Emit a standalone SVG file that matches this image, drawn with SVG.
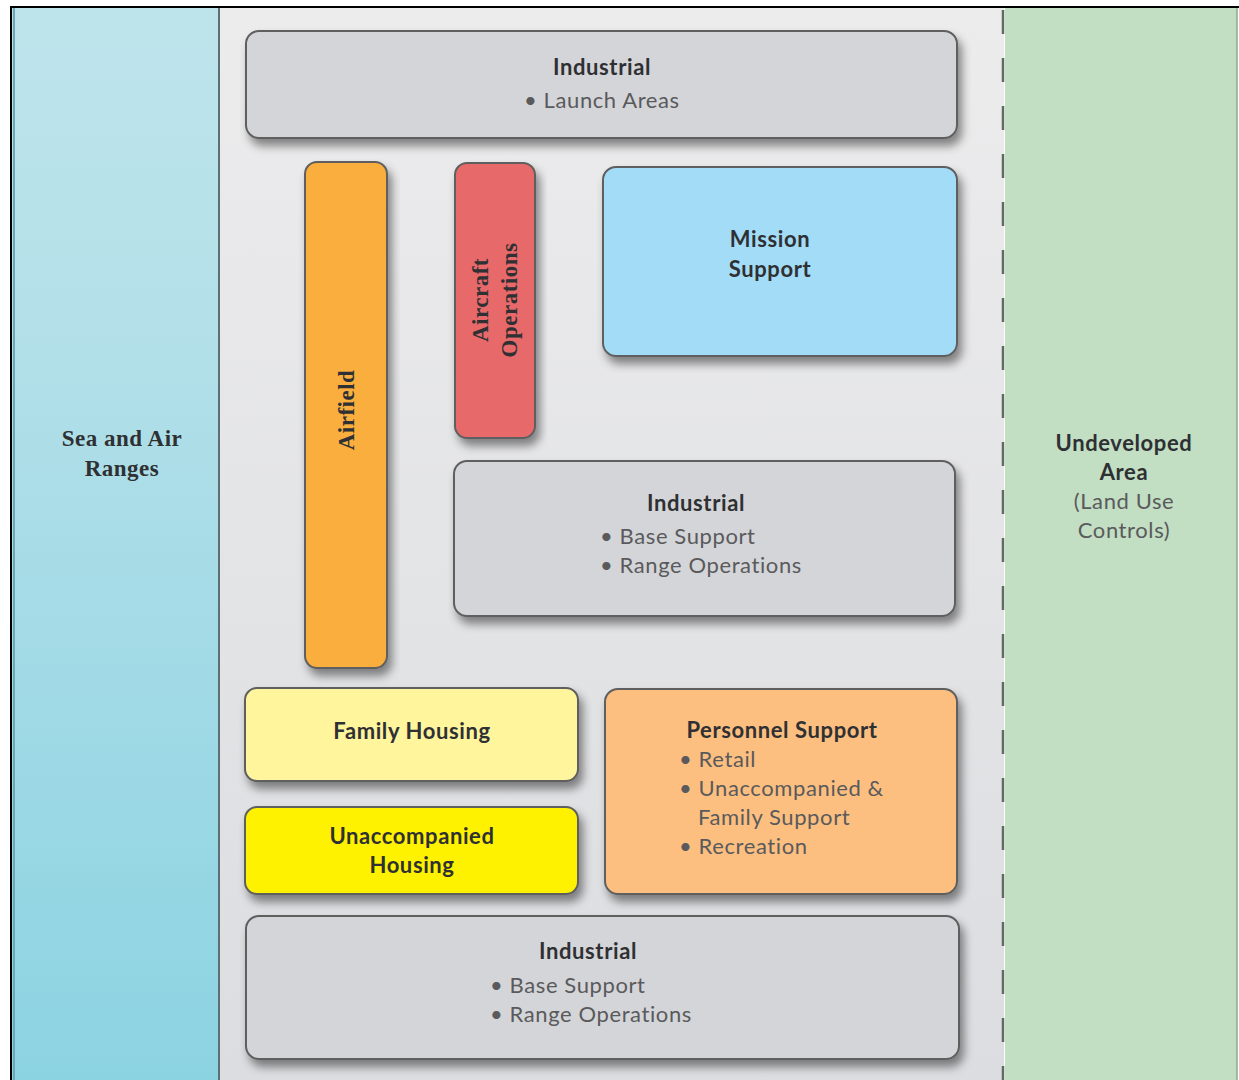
<svg xmlns="http://www.w3.org/2000/svg" width="1239" height="1080" viewBox="0 0 1239 1080">
  <defs>
    <linearGradient id="gSea" x1="0" y1="0" x2="0" y2="1">
      <stop offset="0" stop-color="#bee4eb"/>
      <stop offset="0.3" stop-color="#b3e0e9"/>
      <stop offset="1" stop-color="#8cd3e2"/>
    </linearGradient>
    <linearGradient id="gMid" x1="0" y1="0" x2="0" y2="1">
      <stop offset="0" stop-color="#ececed"/>
      <stop offset="1" stop-color="#dcdde0"/>
    </linearGradient>
    <filter id="sh" x="-10%" y="-10%" width="125%" height="130%">
      <feDropShadow dx="4" dy="7" stdDeviation="5" flood-color="#000" flood-opacity="0.45"/>
    </filter>
  </defs>
  <style>
    .box { stroke: #5f5f5f; stroke-width: 2; filter: url(#sh); }
    .t { font-family: Lato, "Open Sans", "Liberation Sans", sans-serif; font-weight: 700; font-size: 22px; letter-spacing: 0.6px; fill: #2f3033; text-anchor: middle; }
    .b { font-family: Lato, "Open Sans", "Liberation Sans", sans-serif; font-weight: 400; font-size: 22px; letter-spacing: 0.6px; fill: #5a5a5c; }
    .s { font-family: "Liberation Serif", serif; font-weight: 700; font-size: 23px; letter-spacing: 0.5px; fill: #2f3033; text-anchor: middle; }
  </style>

  <!-- panels -->
  <rect x="0" y="0" width="1239" height="1080" fill="#ffffff"/>
  <rect x="12" y="8" width="207" height="1072" fill="url(#gSea)"/>
  <line x1="14" y1="8" x2="14" y2="1080" stroke="#6fa8b5" stroke-width="2"/>
  <rect x="219" y="8" width="785" height="1072" fill="url(#gMid)"/>
  <line x1="219" y1="8" x2="219" y2="1080" stroke="#5d6f72" stroke-width="2"/>
  <rect x="1005" y="8" width="232" height="1072" fill="#c2dec3"/>
  <line x1="1237" y1="8" x2="1237" y2="1080" stroke="#8ea68f" stroke-width="1.5"/>
  <line x1="1003" y1="10" x2="1003" y2="1080" stroke="#5e6b60" stroke-width="2.5" stroke-dasharray="24 24"/>
  <line x1="11" y1="7" x2="11" y2="1080" stroke="#000" stroke-width="2"/>
  <line x1="10" y1="7" x2="1239" y2="7" stroke="#000" stroke-width="2"/>

  <g id="sea-air-ranges">
    <text class="s" x="122" y="446">Sea and Air</text>
    <text class="s" x="122" y="476">Ranges</text>
  </g>

  <g id="undeveloped-area">
    <text class="t" x="1124" y="451">Undeveloped</text>
    <text class="t" x="1124" y="480">Area</text>
    <text class="b" x="1124" y="509" text-anchor="middle">(Land Use</text>
    <text class="b" x="1124" y="538" text-anchor="middle">Controls)</text>
  </g>

  <g id="industrial-top">
    <rect class="box" x="246" y="31" width="711" height="107" rx="13" fill="#d4d5d8"/>
    <text class="t" x="602" y="75">Industrial</text>
    <text class="b" x="524" y="108">• Launch Areas</text>
  </g>

  <g id="airfield">
    <rect class="box" x="305" y="162" width="82" height="506" rx="12" fill="#f9ae3d"/>
    <text class="s" transform="translate(354 410) rotate(-90)" x="0" y="0">Airfield</text>
  </g>

  <g id="aircraft-operations">
    <rect class="box" x="455" y="163" width="80" height="275" rx="12" fill="#e8696a"/>
    <text class="s" transform="translate(488 300) rotate(-90)" x="0" y="0">Aircraft</text>
    <text class="s" transform="translate(517 300) rotate(-90)" x="0" y="0">Operations</text>
  </g>

  <g id="mission-support">
    <rect class="box" x="603" y="167" width="354" height="189" rx="13" fill="#a3dcf7"/>
    <text class="t" x="770" y="247">Mission</text>
    <text class="t" x="770" y="277">Support</text>
  </g>

  <g id="industrial-middle">
    <rect class="box" x="454" y="461" width="501" height="155" rx="13" fill="#d4d5d8"/>
    <text class="t" x="696" y="511">Industrial</text>
    <text class="b" x="600" y="544">• Base Support</text>
    <text class="b" x="600" y="573">• Range Operations</text>
  </g>

  <g id="family-housing">
    <rect class="box" x="245" y="688" width="333" height="93" rx="12" fill="#fef59c"/>
    <text class="t" x="412" y="739">Family Housing</text>
  </g>

  <g id="unaccompanied-housing">
    <rect class="box" x="245" y="807" width="333" height="87" rx="12" fill="#fff200"/>
    <text class="t" x="412" y="844">Unaccompanied</text>
    <text class="t" x="412" y="873">Housing</text>
  </g>

  <g id="personnel-support">
    <rect class="box" x="605" y="689" width="352" height="205" rx="13" fill="#fcbf80"/>
    <text class="t" x="782" y="738">Personnel Support</text>
    <text class="b" x="679" y="767">• Retail</text>
    <text class="b" x="679" y="796">• Unaccompanied &amp;</text>
    <text class="b" x="698" y="825">Family Support</text>
    <text class="b" x="679" y="854">• Recreation</text>
  </g>

  <g id="industrial-bottom">
    <rect class="box" x="246" y="916" width="713" height="143" rx="13" fill="#d4d5d8"/>
    <text class="t" x="588" y="959">Industrial</text>
    <text class="b" x="490" y="993">• Base Support</text>
    <text class="b" x="490" y="1022">• Range Operations</text>
  </g>

  <g id="connectors"></g>
</svg>
